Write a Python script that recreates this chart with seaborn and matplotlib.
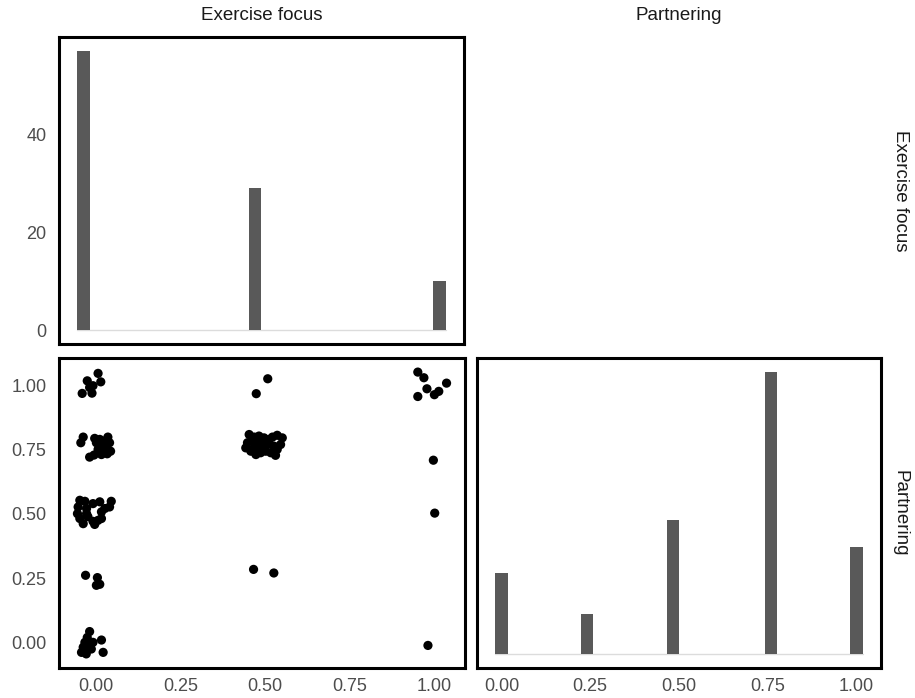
import numpy as np
import matplotlib
matplotlib.use("Agg")
import matplotlib.pyplot as plt
import seaborn as sns

# Plotted (jittered) positions of the 96 respondents, grouped by level pair
exercise_jit = [
    # Exercise 0.00 / Partnering 1.00
    -0.041, -0.026, 0.006, 0.014, -0.012, -0.009, -0.019,
    # Exercise 0.00 / Partnering 0.75
    -0.038, -0.045, -0.004, 0.011, 0.035, 0.040, 0.016, 0.006,
    -0.019, -0.006, 0.016, 0.033, 0.043, 0.026, 0.001, 0.024,
    # Exercise 0.00 / Partnering 0.50
    -0.048, -0.033, -0.053, -0.055, -0.048, -0.028, -0.024, -0.009, 0.006, 0.016,
    0.016, 0.011, 0.026, 0.040, 0.045, -0.009, -0.038, -0.004, -0.028,
    # Exercise 0.00 / Partnering 0.25
    -0.031, 0.004, 0.011, 0.001,
    # Exercise 0.00 / Partnering 0.00
    -0.019, -0.026, -0.033, -0.038, -0.043, -0.029, -0.014, -0.009, 0.016, 0.021, -0.021,
    # Exercise 0.50 / Partnering 1.00
    0.508, 0.474,
    # Exercise 0.50 / Partnering 0.75
    0.453, 0.468, 0.482, 0.497, 0.512, 0.522, 0.536, 0.551, 0.546, 0.526, 0.507, 0.492, 0.477,
    0.463, 0.448, 0.443, 0.458, 0.473, 0.487, 0.502, 0.517, 0.531, 0.536, 0.468, 0.492,
    # Exercise 0.50 / Partnering 0.25
    0.466, 0.526,
    # Exercise 1.00 / Partnering 1.00
    0.952, 0.970, 0.979, 0.952, 1.001, 1.014, 1.037,
    # Exercise 1.00 / Partnering 0.75, 0.50, 0.00
    0.998, 1.002, 0.982,
]
partnering_jit = [
    0.969, 1.018, 1.047, 1.014, 0.970, 0.999, 0.992,
    0.799, 0.777, 0.794, 0.790, 0.799, 0.777, 0.770, 0.751,
    0.721, 0.729, 0.731, 0.734, 0.744, 0.757, 0.777, 0.783,
    0.553, 0.549, 0.527, 0.501, 0.482, 0.521, 0.489, 0.471, 0.475, 0.482,
    0.508, 0.547, 0.521, 0.527, 0.549, 0.540, 0.462, 0.459, 0.501,
    0.261, 0.252, 0.226, 0.222,
    0.042, 0.019, 0.000, -0.019, -0.039, -0.045, -0.026, 0.000, 0.009, -0.039, -0.013,
    1.026, 0.968,
    0.809, 0.799, 0.803, 0.796, 0.790, 0.799, 0.806, 0.796, 0.770, 0.764, 0.770, 0.777, 0.777,
    0.783, 0.777, 0.757, 0.744, 0.731, 0.738, 0.744, 0.738, 0.728, 0.751, 0.757, 0.757,
    0.284, 0.270,
    1.052, 1.030, 0.987, 0.957, 0.964, 0.977, 1.009,
    0.709, 0.503, -0.012,
]

variables = ["Exercise focus", "Partnering"]
axis_ticks = [0.0, 0.25, 0.5, 0.75, 1.0]
axis_ticklabels = ["0.00", "0.25", "0.50", "0.75", "1.00"]
count_ticks = [0, 20, 40]

# Raw responses sit on a 0.25 grid
exercise = np.round(np.array(exercise_jit) * 4) / 4
partnering = np.round(np.array(partnering_jit) * 4) / 4

sns.set_style("white")
plt.rcParams["font.family"] = ["Liberation Sans", "DejaVu Sans"]

BAR = "#595959"
TICK_COL = "#4d4d4d"
STRIP_COL = "#1a1a1a"


def expand(lo, hi, frac=0.05):
    pad = (hi - lo) * frac
    return lo - pad, hi + pad


def bin_edges(values, n=30):
    lo, hi = float(np.min(values)), float(np.max(values))
    w = (hi - lo) / (n - 1)
    # right-closed bins centred on the data range ends
    return lo - w / 2 + w * np.arange(n + 1) + 1e-9


def style_axes(ax):
    for sp in ax.spines.values():
        sp.set_visible(True)
        sp.set_color("black")
        sp.set_linewidth(2.2)
    ax.tick_params(length=0, labelsize=13, labelcolor=TICK_COL)
    ax.tick_params(axis="y", pad=9)
    ax.tick_params(axis="x", pad=7)
    ax.set_xlabel("")
    ax.set_ylabel("")


def diag_hist(ax, values):
    edges = bin_edges(values)
    counts, _ = np.histogram(values, bins=edges)
    ax.plot([edges[0], edges[-1]], [0, 0], color="#dcdcdc", lw=1.0, zorder=0)
    sns.histplot(x=values, bins=edges, ax=ax, color=BAR, alpha=1,
                 linewidth=0, edgecolor="none", zorder=2)
    ax.set_xlim(*expand(edges[0], edges[-1]))
    ax.set_ylim(*expand(0, counts.max()))
    style_axes(ax)


fig = plt.figure(figsize=(9.15, 6.98), dpi=100)
W, H = 915, 698


def panel(x0, y0, x1, y1):
    return fig.add_axes([x0 / W, 1 - y1 / H, (x1 - x0) / W, (y1 - y0) / H])


ax_tl = panel(59, 37, 464, 344)
ax_bl = panel(59, 358, 465, 668)
ax_br = panel(477, 358, 881, 668)

# Diagonal: Exercise focus
diag_hist(ax_tl, exercise)
ax_tl.set_xticks([])
ax_tl.set_yticks(count_ticks)

# Lower: scatter of jittered responses
sns.scatterplot(x=exercise_jit, y=partnering_jit, ax=ax_bl, color="black",
                s=44, linewidth=0, edgecolor="none")
ax_bl.set_xlim(*expand(min(exercise_jit), max(exercise_jit)))
ax_bl.set_ylim(*expand(min(partnering_jit), max(partnering_jit)))
style_axes(ax_bl)
ax_bl.set_xticks(axis_ticks, axis_ticklabels)
ax_bl.set_yticks(axis_ticks, axis_ticklabels)

# Diagonal: Partnering
diag_hist(ax_br, partnering)
ax_br.set_xticks(axis_ticks, axis_ticklabels)
ax_br.set_yticks([])

# Facet strip labels
fig.text((59 + 464) / 2 / W, 1 - 15 / H, variables[0], ha="center", va="center",
         fontsize=13.5, color=STRIP_COL)
fig.text((477 + 881) / 2 / W, 1 - 15 / H, variables[1], ha="center", va="center",
         fontsize=13.5, color=STRIP_COL)
fig.text(900 / W, 1 - (37 + 344) / 2 / H, variables[0], ha="center", va="center",
         rotation=270, fontsize=13.5, color=STRIP_COL)
fig.text(900 / W, 1 - (358 + 668) / 2 / H, variables[1], ha="center", va="center",
         rotation=270, fontsize=13.5, color=STRIP_COL)

fig.savefig("out.png", dpi=100, facecolor="white")
